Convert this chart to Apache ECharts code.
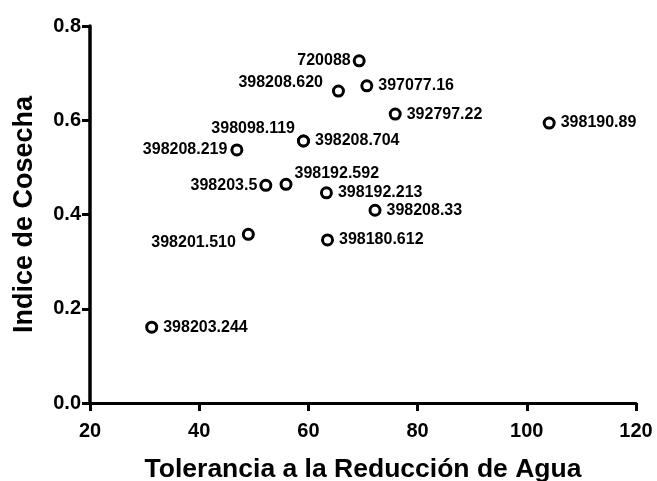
<!DOCTYPE html>
<html>
<head>
<meta charset="utf-8">
<script src="https://cdn.jsdelivr.net/npm/echarts@6/dist/echarts.min.js"></script>
<style>
  html, body { margin: 0; padding: 0; background: #fff; }
  #chart { width: 657px; height: 481px; }
</style>
</head>
<body>
<div id="chart"></div>
<script>
// clones (labels) with the values
const clones = ['720088', '398208.620', '397077.16', '392797.22', '398190.89', '398098.119', '398208.704',
  '398208.219', '398203.5', '398192.592', '398192.213', '398208.33', '398201.510', '398180.612', '398203.244']
const tolerancia = [69.3, 65.5, 70.7, 75.9, 104.1, 59.1, 59.1, 46.9, 52.2, 55.9, 63.3, 72.2, 49.0, 63.5, 31.3]
const indiceCosecha = [0.726, 0.662, 0.673, 0.613, 0.594, 0.556, 0.556, 0.537, 0.462, 0.464, 0.446, 0.409, 0.358, 0.346, 0.161]
const xTicks = [20, 40, 60, 80, 100, 120]
const yTicks = [0, 0.2, 0.4, 0.6, 0.8]

// where each label sits next to its circle: side, distance, vertical offset
const labelPlace = {
  '720088': ['left', 2, 0],
  '398208.620': ['left', 9, -8],
  '398098.119': ['left', 2, -12],
  '398208.219': ['left', 3, 0],
  '398203.5': ['left', 2, 0],
  '398201.510': ['left', 6, 8],
  '398192.592': ['right', 2, -11]
}

const chart = echarts.init(document.getElementById('chart'))

const points = clones.map((name, i) => {
  const p = labelPlace[name] || ['right', 5, 0]
  return {
    name: name,
    value: [tolerancia[i], indiceCosecha[i]],
    label: { position: p[0], distance: p[1], offset: [0, p[2]] }
  }
})

const axisText = { color: '#000', fontFamily: 'Liberation Sans', fontWeight: 'bold' }

chart.setOption({
  animation: false,
  backgroundColor: '#fff',
  grid: { left: 90, right: 21, top: 26, bottom: 78, containLabel: false, outerBoundsMode: 'none' },
  xAxis: {
    type: 'value',
    min: xTicks[0],
    max: xTicks[xTicks.length - 1],
    interval: 20,
    name: 'Tolerancia a la Reducción de Agua',
    nameLocation: 'middle',
    nameGap: 53,
    nameTextStyle: { ...axisText, fontSize: 26.5 },
    axisLine: { show: true, onZero: false, lineStyle: { color: '#000', width: 3 } },
    axisTick: { show: true, length: 8, lineStyle: { color: '#000', width: 3 } },
    axisLabel: { ...axisText, fontSize: 20, margin: 18 },
    splitLine: { show: false }
  },
  yAxis: {
    type: 'value',
    min: yTicks[0],
    max: yTicks[yTicks.length - 1],
    interval: 0.2,
    name: 'Indice de Cosecha',
    nameLocation: 'middle',
    nameGap: 52,
    nameTextStyle: { ...axisText, fontSize: 27 },
    axisLine: { show: true, onZero: false, lineStyle: { color: '#000', width: 3.5 } },
    axisTick: { show: true, length: 8, lineStyle: { color: '#000', width: 3 } },
    axisLabel: { ...axisText, fontSize: 20, margin: 9, formatter: v => v.toFixed(1) },
    splitLine: { show: false }
  },
  series: [{
    type: 'scatter',
    symbol: 'circle',
    symbolSize: 10,
    itemStyle: { color: '#fff', borderColor: '#000', borderWidth: 3, opacity: 1 },
    label: {
      show: true,
      formatter: '{b}',
      color: '#000',
      fontFamily: 'Liberation Sans',
      fontWeight: 'bold',
      fontSize: 16
    },
    data: points
  }]
})
</script>
</body>
</html>
